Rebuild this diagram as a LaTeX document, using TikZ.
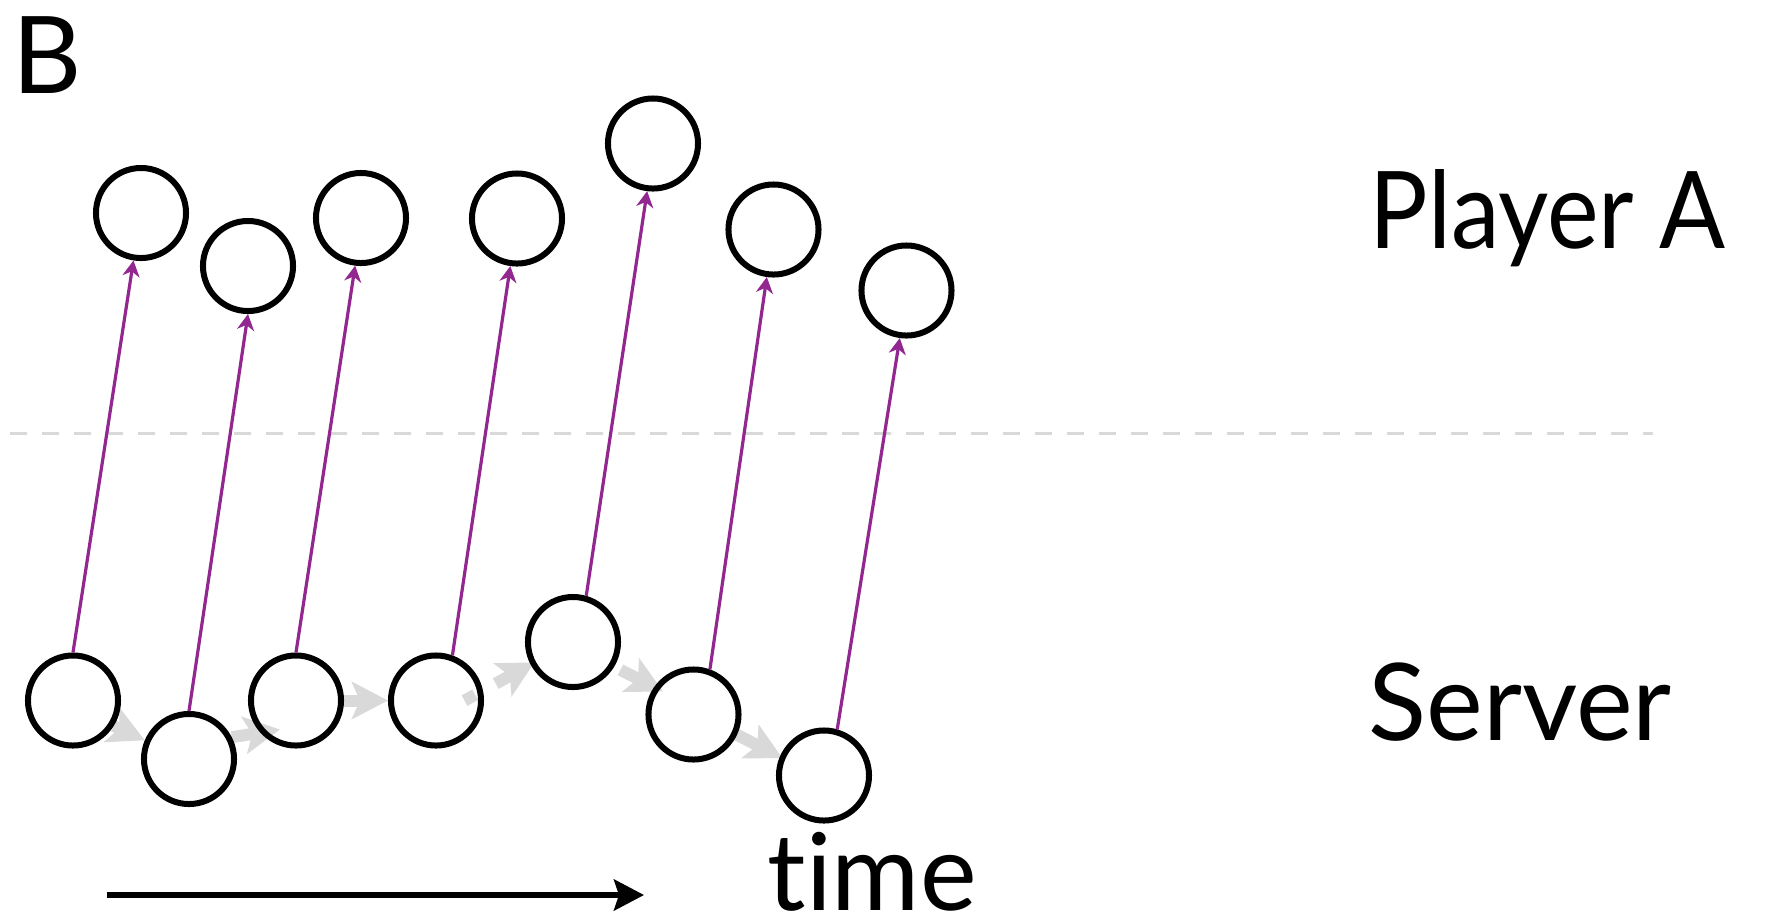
\documentclass[tikz,border=0pt]{standalone}
\usepackage{fontspec}
\setmainfont{Lato}[Ligatures=NoCommon]
\usetikzlibrary{arrows.meta,backgrounds}

\definecolor{msgpurple}{RGB}{146,39,143}
\definecolor{flowgray}{RGB}{217,217,217}

\begin{document}
\begin{tikzpicture}[
  x=0.01cm, y=-0.01cm,
  state/.style={circle,draw=black,line width=0.06cm,minimum size=0.9cm,inner sep=0pt},
  sent/.style={msgpurple,line width=0.032cm,-{Stealth[length=0.16cm,width=0.17cm,inset=0.05cm]}},
  flow/.style={flowgray,line width=0.12cm,-{Stealth[length=0.36cm,width=0.37cm,inset=0.08cm]}},
  rowname/.style={anchor=base west,inner sep=0pt,font=\fontsize{30.5}{36}\selectfont}
]
\useasboundingbox (0,0) rectangle (1765,920);

% player A states
\node[state] (p1) at (141,213) {};
\node[state] (p2) at (248,266) {};
\node[state] (p3) at (361,218) {};
\node[state] (p4) at (517,218.5) {};
\node[state] (p5) at (653,143.5) {};
\node[state] (p6) at (773.5,229.5) {};
\node[state] (p7) at (906.5,290.5) {};

% server states
\node[state] (s1) at (73,700.5) {};
\node[state] (s2) at (189,759) {};
\node[state] (s3) at (296,700.5) {};
\node[state] (s4) at (436,700.5) {};
\node[state] (s5) at (573,642) {};
\node[state] (s6) at (693.5,714.5) {};
\node[state] (s7) at (824,775.5) {};

\begin{scope}[on background layer]
% divider between the two rows
\coordinate (d0) at (10,433);
\coordinate (d1) at (1653,433);
\draw[flowgray,line width=0.03cm,dash pattern=on 0.17cm off 0.15cm] (d0) -- (d1);

% server steps
\draw[flow] (s1.-32) -- (s2.157);
\draw[flow,shorten >=-0.2cm] (s2.27) -- (s3.222);
\draw[flow] (s3.0) -- (s4.180);
\draw[flow,shorten <=-0.21cm,shorten >=-0.045cm,
  dash pattern=on 0.12cm off 0.235cm on 2cm off 0.1cm] (s4.12) -- (s5.208);
\draw[flow,shorten <=0.07cm,shorten >=-0.1cm] (s5.-31) -- (s6.145);
\draw[flow,shorten >=-0.03cm] (s6.-25) -- (s7.157);
\end{scope}

% updates sent to player A
\draw[sent] (s1.90) -- (p1.261);
\draw[sent] (s2.90) -- (p2.270);
\draw[sent] (s3.90) -- (p3.263);
\draw[sent] (s4.70) -- (p4.262);
\draw[sent] (s5.74) -- (p5.263);
\draw[sent] (s6.70) -- (p6.262);
\draw[sent] (s7.74) -- (p7.262);

% labels
\node[rowname] (panel) at (12,93) {B};
\node[rowname] (player) at (1369,248) {\scalebox{0.91}[1]{Player A}};
\node[rowname] (server) at (1368,740) {Server};
\node[rowname] (timelbl) at (767,910) {time};

% time axis
\coordinate (t0) at (107,895);
\coordinate (t1) at (644,895);
\draw[line width=0.055cm,-{Stealth[length=0.3cm,width=0.31cm,inset=0.05cm]}] (t0) -- (t1);

\end{tikzpicture}
\end{document}
